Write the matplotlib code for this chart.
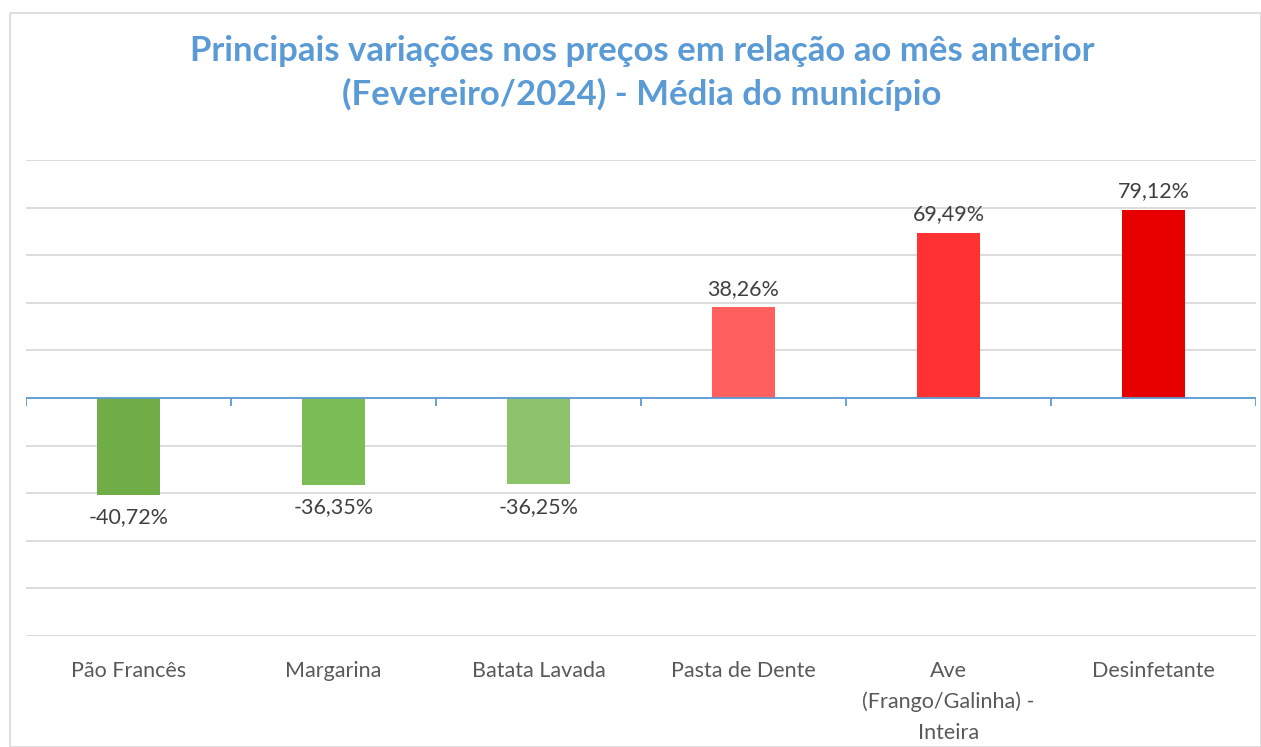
import matplotlib.pyplot as plt
from matplotlib.patches import Rectangle

categories = ['Pão Francês', 'Margarina', 'Batata Lavada', 'Pasta de Dente',
              'Ave\n(Frango/Galinha) -\nInteira', 'Desinfetante']
values = [-40.72, -36.35, -36.25, 38.26, 69.49, 79.12]
colors = ['#70AD47', '#7CBC55', '#8DC46B', '#FF5F5F', '#FF3131', '#E60000']
labels = ['-40,72%', '-36,35%', '-36,25%', '38,26%', '69,49%', '79,12%']

plt.rcParams['font.family'] = ['Lato', 'DejaVu Sans']

fig = plt.figure(figsize=(12.61, 7.47), dpi=100)
fig.patches.append(Rectangle((10 / 1261, 0), 1 - 10 / 1261, 1 - 13 / 747,
                             transform=fig.transFigure, fill=False,
                             edgecolor='#D9D9D9', linewidth=1.2))

ax = fig.add_axes([26 / 1261, 1 - 636 / 747, 1230 / 1261, 476 / 747])
x = range(len(categories))
ax.bar(x, values, width=0.31, color=colors, zorder=3)

ax.set_xlim(-0.5, len(categories) - 0.5)
ax.set_ylim(-100, 100)
ax.set_yticks(range(-100, 101, 20))
ax.yaxis.grid(True, color='#D9D9D9', linewidth=1.3)
ax.tick_params(axis='y', length=0, labelleft=False)
for s in ax.spines.values():
    s.set_visible(False)

# zero line with category boundary ticks
ax.axhline(0, color='#5B9BD5', linewidth=1.3, zorder=4)
ax.vlines([i - 0.5 for i in range(len(categories) + 1)], -3.4, 0,
          color='#5B9BD5', linewidth=1.3, zorder=4)

ax.set_xticks(list(x))
ax.set_xticklabels(categories, fontsize=15.5, color='#595959', linespacing=1.65,
                   va='top')
ax.tick_params(axis='x', length=0, pad=18)

for xi, v, lab in zip(x, values, labels):
    if v >= 0:
        ax.annotate(lab, (xi, v), xytext=(0, 6), textcoords='offset points',
                    ha='center', va='bottom', fontsize=15.5, color='#404040')
    else:
        ax.annotate(lab, (xi, v), xytext=(0, -9), textcoords='offset points',
                    ha='center', va='top', fontsize=15.5, color='#404040')

fig.text(0.509, 0.932, 'Principais variações nos preços em relação ao mês anterior',
         ha='center', va='center', fontsize=25, fontweight='bold', color='#5B9BD5')
fig.text(0.509, 0.874, '(Fevereiro/2024) - Média do município',
         ha='center', va='center', fontsize=25, fontweight='bold', color='#5B9BD5')

fig.savefig('out.png', dpi=100)
